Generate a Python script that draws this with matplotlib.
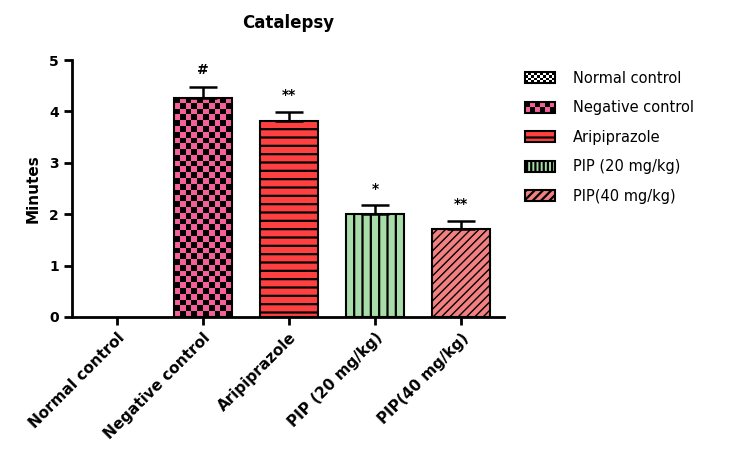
import numpy as np
import matplotlib
matplotlib.use("Agg")
import matplotlib.pyplot as plt
from matplotlib.patches import Rectangle, Patch
from matplotlib.colors import ListedColormap
from matplotlib.legend_handler import HandlerBase

plt.rcParams['font.family'] = ['DejaVu Sans']
plt.rcParams['hatch.linewidth'] = 1.6

groups = ["Normal control", "Negative control", "Aripiprazole", "PIP (20 mg/kg)", "PIP(40 mg/kg)"]
legend_labels = ["Normal control", "Negative control", "Aripiprazole", "PIP (20 mg/kg)", "PIP(40 mg/kg)"]
means = [0.0, 4.27, 3.81, 2.00, 1.71]
sem = [0.0, 0.21, 0.18, 0.17, 0.16]
marks = ["", "#", "**", "*", "**"]

pink = "#f5609a"
red = "#ff4040"
green = "#a8dca8"
salmon = "#f38080"
face = ["white", pink, red, green, salmon]
hatches = [None, None, "--", "||", "////"]


class CheckerHandler(HandlerBase):
    def __init__(self, c1, c2, nx, ny):
        super().__init__()
        self.c1, self.c2, self.nx, self.ny = c1, c2, nx, ny

    def create_artists(self, legend, orig_handle, xdescent, ydescent,
                       width, height, fontsize, trans):
        arts = []
        w = width / self.nx
        h = height / self.ny
        for i in range(self.nx):
            for j in range(self.ny):
                c = self.c1 if (i + j) % 2 == 0 else self.c2
                arts.append(Rectangle((-xdescent + i * w, -ydescent + j * h), w, h,
                                      facecolor=c, edgecolor="none", transform=trans))
        arts.append(Rectangle((-xdescent, -ydescent), width, height, fill=False,
                              edgecolor="black", lw=1.5, transform=trans))
        return arts


def thin_hatch(p, lw):
    if hasattr(p, "set_hatch_linewidth"):
        p.set_hatch_linewidth(lw)


fig = plt.figure(figsize=(7.41, 4.5), dpi=100)
ax = fig.add_axes([0.0972, 0.2956, 0.583, 0.571])

x = np.arange(len(groups))
bars = ax.bar(x, means, width=0.67, color=face, edgecolor="black", linewidth=1.5, zorder=3)
for b, h in zip(bars, hatches):
    if h:
        b.set_hatch(h)
thin_hatch(bars[4], 1.0)
bars[0].set_linewidth(0)

ax.set_xlim(-0.52, 4.5)
ax.set_ylim(0, 5)

# checkerboard fill for the negative control bar
b = bars[1]
x0, bw, bh = b.get_x(), b.get_width(), b.get_height()
p0 = ax.transData.transform((x0, 0))
p1 = ax.transData.transform((x0 + bw, bh))
nx = 10
ny = int(round(nx * (p1[1] - p0[1]) / (p1[0] - p0[0])))
checker = (np.add.outer(np.arange(ny), np.arange(nx)) % 2).astype(float)
b.set_facecolor("none")
b.set_zorder(4)
im = ax.imshow(checker, extent=(x0, x0 + bw, 0, bh), cmap=ListedColormap([pink, "black"]),
               aspect="auto", interpolation="nearest", origin="lower", zorder=3)
im.set_clip_path(b)
ax.set_xlim(-0.52, 4.5)
ax.set_ylim(0, 5)

ax.errorbar(x[1:], means[1:], yerr=[np.zeros(len(x) - 1), sem[1:]], fmt="none",
            ecolor="black", elinewidth=1.8, capsize=10.4, capthick=1.8, zorder=5)

for xi, m, s, t in zip(x, means, sem, marks):
    if t:
        ax.annotate(t, (xi, m + s), xytext=(0, 7), textcoords="offset points",
                    ha="center", va="bottom", fontsize=10, fontweight="bold")

ax.spines["top"].set_visible(False)
ax.spines["right"].set_visible(False)
ax.spines["left"].set_linewidth(2)
ax.spines["bottom"].set_linewidth(2)
ax.tick_params(axis="both", width=2, length=6, direction="out", labelsize=10)
ax.set_yticks(range(6))
ax.set_xticks(x)
ax.set_xticklabels(groups, rotation=45, ha="right", rotation_mode="anchor",
                   fontweight="bold", fontsize=11)
for lab in ax.get_yticklabels():
    lab.set_fontweight("bold")
ax.set_ylabel("Minutes", fontsize=11, fontweight="bold", labelpad=6)
fig.text(0.389, 0.948, "Catalepsy", ha="center", va="center", fontsize=12, fontweight="bold")

handles = [Patch(label=l) for l in legend_labels]
handles[2] = Patch(facecolor=red, edgecolor="black", hatch="--", lw=1.5, label=legend_labels[2])
handles[3] = Patch(facecolor=green, edgecolor="black", hatch="||||", lw=1.5, label=legend_labels[3])
handles[4] = Patch(facecolor=salmon, edgecolor="black", hatch="////", lw=1.5, label=legend_labels[4])
thin_hatch(handles[4], 1.0)
hmap = {handles[0]: CheckerHandler("black", "white", 10, 4),
        handles[1]: CheckerHandler(pink, "black", 6, 2)}
fig.legend(handles=handles, labels=legend_labels, handler_map=hmap, loc="upper left",
           bbox_to_anchor=(0.708, 0.843), frameon=False, fontsize=10.5,
           handlelength=2.1, handleheight=0.8, handletextpad=1.2, labelspacing=1.0,
           borderpad=0, borderaxespad=0)

fig.savefig("out.png", dpi=100)
